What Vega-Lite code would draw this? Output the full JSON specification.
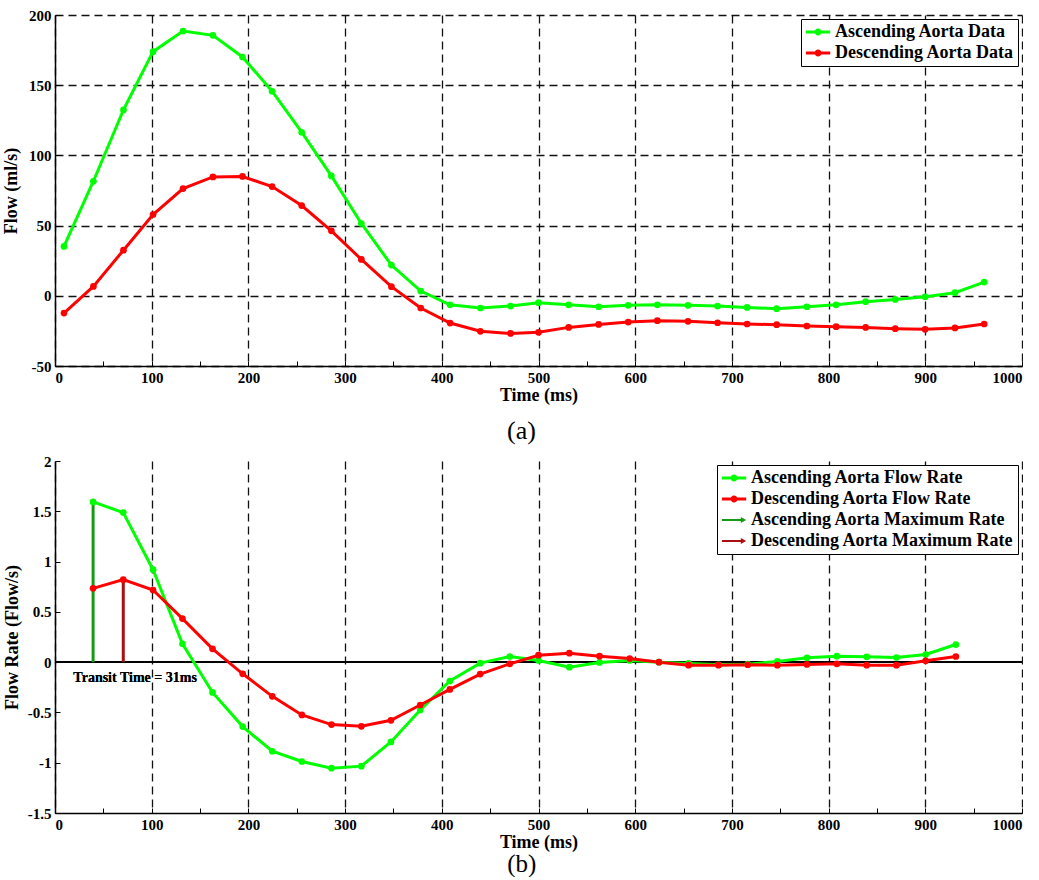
{
  "$schema": "https://vega.github.io/schema/vega-lite/v6.json",
  "background": "white",
  "padding": {"left": 2, "top": 8, "right": 0, "bottom": 0},
  "spacing": 10,
  "config": {
    "view": {"stroke": null},
    "font": "Liberation Serif",
    "axis": {
      "labelFont": "Liberation Serif", "labelFontSize": 15, "labelFontWeight": "bold", "labelColor": "black",
      "titleFont": "Liberation Serif", "titleFontSize": 18, "titleFontWeight": "bold", "titleColor": "black",
      "domainColor": "black", "domainWidth": 1.5,
      "tickColor": "black", "tickSize": -5, "tickWidth": 1,
      "labelPadding": 9,
      "gridColor": "#111111", "gridDash": [8, 5], "gridWidth": 1.3
    },
    "legend": {
      "orient": "top-right", "offset": 4, "strokeColor": "black", "fillColor": "white", "padding": 4,
      "labelFont": "Liberation Serif", "labelFontSize": 18, "labelFontWeight": "bold", "labelColor": "black",
      "labelLimit": 400, "labelOffset": 12, "rowPadding": 3, "symbolSize": 324, "symbolStrokeWidth": 0, "symbolOpacity": 1
    }
  },
  "datasets": {
    "flow": [
      {"t": 9.3, "v": 35.2, "s": "Ascending Aorta Data"},
      {"t": 39.7, "v": 81.6, "s": "Ascending Aorta Data"},
      {"t": 70.8, "v": 132.4, "s": "Ascending Aorta Data"},
      {"t": 101.4, "v": 173.9, "s": "Ascending Aorta Data"},
      {"t": 132.4, "v": 188.6, "s": "Ascending Aorta Data"},
      {"t": 163.3, "v": 185.5, "s": "Ascending Aorta Data"},
      {"t": 193.9, "v": 170.1, "s": "Ascending Aorta Data"},
      {"t": 224.5, "v": 145.7, "s": "Ascending Aorta Data"},
      {"t": 255.1, "v": 116.5, "s": "Ascending Aorta Data"},
      {"t": 285.8, "v": 85.4, "s": "Ascending Aorta Data"},
      {"t": 316.8, "v": 51.5, "s": "Ascending Aorta Data"},
      {"t": 347.9, "v": 21.9, "s": "Ascending Aorta Data"},
      {"t": 378.2, "v": 3.4, "s": "Ascending Aorta Data"},
      {"t": 408.6, "v": -6.4, "s": "Ascending Aorta Data"},
      {"t": 439.9, "v": -8.7, "s": "Ascending Aorta Data"},
      {"t": 471.1, "v": -7.3, "s": "Ascending Aorta Data"},
      {"t": 500.0, "v": -4.9, "s": "Ascending Aorta Data"},
      {"t": 531.2, "v": -6.4, "s": "Ascending Aorta Data"},
      {"t": 562.2, "v": -7.8, "s": "Ascending Aorta Data"},
      {"t": 592.8, "v": -6.8, "s": "Ascending Aorta Data"},
      {"t": 622.9, "v": -6.4, "s": "Ascending Aorta Data"},
      {"t": 654.6, "v": -6.8, "s": "Ascending Aorta Data"},
      {"t": 685.2, "v": -7.3, "s": "Ascending Aorta Data"},
      {"t": 715.7, "v": -8.3, "s": "Ascending Aorta Data"},
      {"t": 746.3, "v": -9.2, "s": "Ascending Aorta Data"},
      {"t": 777.5, "v": -7.8, "s": "Ascending Aorta Data"},
      {"t": 807.8, "v": -6.4, "s": "Ascending Aorta Data"},
      {"t": 838.3, "v": -4.2, "s": "Ascending Aorta Data"},
      {"t": 868.9, "v": -2.6, "s": "Ascending Aorta Data"},
      {"t": 899.8, "v": -0.7, "s": "Ascending Aorta Data"},
      {"t": 930.7, "v": 2.2, "s": "Ascending Aorta Data"},
      {"t": 960.9, "v": 9.8, "s": "Ascending Aorta Data"},
      {"t": 9.3, "v": -12.3, "s": "Descending Aorta Data"},
      {"t": 39.7, "v": 6.7, "s": "Descending Aorta Data"},
      {"t": 70.8, "v": 32.5, "s": "Descending Aorta Data"},
      {"t": 101.4, "v": 57.9, "s": "Descending Aorta Data"},
      {"t": 132.4, "v": 76.4, "s": "Descending Aorta Data"},
      {"t": 163.3, "v": 84.7, "s": "Descending Aorta Data"},
      {"t": 193.9, "v": 85.0, "s": "Descending Aorta Data"},
      {"t": 224.5, "v": 77.8, "s": "Descending Aorta Data"},
      {"t": 255.1, "v": 64.3, "s": "Descending Aorta Data"},
      {"t": 285.8, "v": 46.3, "s": "Descending Aorta Data"},
      {"t": 316.8, "v": 25.9, "s": "Descending Aorta Data"},
      {"t": 347.9, "v": 6.5, "s": "Descending Aorta Data"},
      {"t": 378.2, "v": -8.7, "s": "Descending Aorta Data"},
      {"t": 408.6, "v": -19.4, "s": "Descending Aorta Data"},
      {"t": 439.9, "v": -25.3, "s": "Descending Aorta Data"},
      {"t": 471.1, "v": -26.8, "s": "Descending Aorta Data"},
      {"t": 500.0, "v": -26.0, "s": "Descending Aorta Data"},
      {"t": 531.2, "v": -22.5, "s": "Descending Aorta Data"},
      {"t": 562.2, "v": -20.4, "s": "Descending Aorta Data"},
      {"t": 592.8, "v": -18.7, "s": "Descending Aorta Data"},
      {"t": 622.9, "v": -17.7, "s": "Descending Aorta Data"},
      {"t": 654.6, "v": -18.2, "s": "Descending Aorta Data"},
      {"t": 685.2, "v": -19.2, "s": "Descending Aorta Data"},
      {"t": 715.7, "v": -20.1, "s": "Descending Aorta Data"},
      {"t": 746.3, "v": -20.6, "s": "Descending Aorta Data"},
      {"t": 777.5, "v": -21.5, "s": "Descending Aorta Data"},
      {"t": 807.8, "v": -22.0, "s": "Descending Aorta Data"},
      {"t": 838.3, "v": -22.5, "s": "Descending Aorta Data"},
      {"t": 868.9, "v": -23.4, "s": "Descending Aorta Data"},
      {"t": 899.8, "v": -23.9, "s": "Descending Aorta Data"},
      {"t": 930.7, "v": -22.9, "s": "Descending Aorta Data"},
      {"t": 960.9, "v": -20.1, "s": "Descending Aorta Data"}
    ],
    "rate": [
      {"t": 39.4, "v": 1.593, "s": "Ascending Aorta Flow Rate"},
      {"t": 70.6, "v": 1.487, "s": "Ascending Aorta Flow Rate"},
      {"t": 101.4, "v": 0.919, "s": "Ascending Aorta Flow Rate"},
      {"t": 131.8, "v": 0.182, "s": "Ascending Aorta Flow Rate"},
      {"t": 162.9, "v": -0.301, "s": "Ascending Aorta Flow Rate"},
      {"t": 194.1, "v": -0.641, "s": "Ascending Aorta Flow Rate"},
      {"t": 224.7, "v": -0.886, "s": "Ascending Aorta Flow Rate"},
      {"t": 255.3, "v": -0.988, "s": "Ascending Aorta Flow Rate"},
      {"t": 285.9, "v": -1.054, "s": "Ascending Aorta Flow Rate"},
      {"t": 316.8, "v": -1.034, "s": "Ascending Aorta Flow Rate"},
      {"t": 347.4, "v": -0.793, "s": "Ascending Aorta Flow Rate"},
      {"t": 377.7, "v": -0.476, "s": "Ascending Aorta Flow Rate"},
      {"t": 408.3, "v": -0.188, "s": "Ascending Aorta Flow Rate"},
      {"t": 439.7, "v": -0.01, "s": "Ascending Aorta Flow Rate"},
      {"t": 470.3, "v": 0.056, "s": "Ascending Aorta Flow Rate"},
      {"t": 500.0, "v": 0.017, "s": "Ascending Aorta Flow Rate"},
      {"t": 531.9, "v": -0.05, "s": "Ascending Aorta Flow Rate"},
      {"t": 563.1, "v": -0.003, "s": "Ascending Aorta Flow Rate"},
      {"t": 594.3, "v": 0.017, "s": "Ascending Aorta Flow Rate"},
      {"t": 624.6, "v": 0.0, "s": "Ascending Aorta Flow Rate"},
      {"t": 655.2, "v": -0.013, "s": "Ascending Aorta Flow Rate"},
      {"t": 686.1, "v": -0.026, "s": "Ascending Aorta Flow Rate"},
      {"t": 716.4, "v": -0.02, "s": "Ascending Aorta Flow Rate"},
      {"t": 747.0, "v": 0.007, "s": "Ascending Aorta Flow Rate"},
      {"t": 777.6, "v": 0.043, "s": "Ascending Aorta Flow Rate"},
      {"t": 808.5, "v": 0.059, "s": "Ascending Aorta Flow Rate"},
      {"t": 839.4, "v": 0.053, "s": "Ascending Aorta Flow Rate"},
      {"t": 870.2, "v": 0.046, "s": "Ascending Aorta Flow Rate"},
      {"t": 900.4, "v": 0.076, "s": "Ascending Aorta Flow Rate"},
      {"t": 931.6, "v": 0.175, "s": "Ascending Aorta Flow Rate"},
      {"t": 39.4, "v": 0.734, "s": "Descending Aorta Flow Rate"},
      {"t": 70.6, "v": 0.82, "s": "Descending Aorta Flow Rate"},
      {"t": 101.4, "v": 0.717, "s": "Descending Aorta Flow Rate"},
      {"t": 131.8, "v": 0.433, "s": "Descending Aorta Flow Rate"},
      {"t": 162.9, "v": 0.132, "s": "Descending Aorta Flow Rate"},
      {"t": 194.1, "v": -0.116, "s": "Descending Aorta Flow Rate"},
      {"t": 224.7, "v": -0.34, "s": "Descending Aorta Flow Rate"},
      {"t": 255.3, "v": -0.525, "s": "Descending Aorta Flow Rate"},
      {"t": 285.9, "v": -0.621, "s": "Descending Aorta Flow Rate"},
      {"t": 316.8, "v": -0.638, "s": "Descending Aorta Flow Rate"},
      {"t": 347.4, "v": -0.578, "s": "Descending Aorta Flow Rate"},
      {"t": 377.7, "v": -0.426, "s": "Descending Aorta Flow Rate"},
      {"t": 408.3, "v": -0.271, "s": "Descending Aorta Flow Rate"},
      {"t": 439.7, "v": -0.119, "s": "Descending Aorta Flow Rate"},
      {"t": 470.3, "v": -0.017, "s": "Descending Aorta Flow Rate"},
      {"t": 500.0, "v": 0.069, "s": "Descending Aorta Flow Rate"},
      {"t": 531.9, "v": 0.089, "s": "Descending Aorta Flow Rate"},
      {"t": 563.1, "v": 0.059, "s": "Descending Aorta Flow Rate"},
      {"t": 594.3, "v": 0.036, "s": "Descending Aorta Flow Rate"},
      {"t": 624.6, "v": 0.0, "s": "Descending Aorta Flow Rate"},
      {"t": 655.2, "v": -0.03, "s": "Descending Aorta Flow Rate"},
      {"t": 686.1, "v": -0.03, "s": "Descending Aorta Flow Rate"},
      {"t": 716.4, "v": -0.026, "s": "Descending Aorta Flow Rate"},
      {"t": 747.0, "v": -0.03, "s": "Descending Aorta Flow Rate"},
      {"t": 777.6, "v": -0.023, "s": "Descending Aorta Flow Rate"},
      {"t": 808.5, "v": -0.017, "s": "Descending Aorta Flow Rate"},
      {"t": 839.4, "v": -0.03, "s": "Descending Aorta Flow Rate"},
      {"t": 870.2, "v": -0.03, "s": "Descending Aorta Flow Rate"},
      {"t": 900.4, "v": 0.013, "s": "Descending Aorta Flow Rate"},
      {"t": 931.6, "v": 0.056, "s": "Descending Aorta Flow Rate"}
    ],
    "stems": [
      {"t": 39.4, "v": 1.593, "s": "Ascending Aorta Maximum Rate"},
      {"t": 70.6, "v": 0.82, "s": "Descending Aorta Maximum Rate"}
    ]
  },
  "resolve": {"scale": {"color": "independent"}, "legend": {"color": "independent"}},
  "vconcat": [
    {
      "width": 967,
      "height": 351,
      "title": {"text": "(a)", "orient": "bottom", "anchor": "middle", "frame": "bounds", "dx": 9, "font": "Liberation Serif", "fontSize": 26, "fontWeight": "normal", "color": "black", "offset": 14},
      "data": {"name": "flow"},
      "layer": [
        {
          "mark": {"type": "line", "strokeWidth": 3},
          "encoding": {
            "x": {"field": "t", "type": "quantitative", "title": "Time (ms)",
              "scale": {"domain": [0, 1000], "nice": false, "zero": false},
              "axis": {
                "values": [0, 50, 100, 150, 200, 250, 300, 350, 400, 450, 500, 550, 600, 650, 700, 750, 800, 850, 900, 950, 1000],
                "labelExpr": "datum.value % 100 === 0 ? toString(datum.value) : ''",
                "gridOpacity": {"condition": {"test": "datum.value % 100 === 0", "value": 1}, "value": 0},
                "titlePadding": 1
              }},
            "y": {"field": "v", "type": "quantitative", "title": "Flow (ml/s)",
              "scale": {"domain": [-50, 200], "nice": false, "zero": false},
              "axis": {
                "values": [-50, -25, 0, 25, 50, 75, 100, 125, 150, 175, 200],
                "labelExpr": "datum.value % 50 === 0 ? toString(datum.value) : ''",
                "gridOpacity": {"condition": {"test": "datum.value % 50 === 0", "value": 1}, "value": 0},
                "titlePadding": 8
              }},
            "color": {"field": "s", "type": "nominal", "sort": null,
              "scale": {"domain": ["Ascending Aorta Data", "Descending Aorta Data"], "range": ["#00ff00", "#ff0000"]},
              "legend": {"title": null,
                "symbolType": "M-0.9,-0.17L1.8,-0.17L1.8,0.17L-0.9,0.17Z M0.07,0A0.38,0.38,0,1,1,0.83,0A0.38,0.38,0,1,1,0.07,0Z",
                "encode": {"symbols": {"update": {
                  "fill": {"signal": "datum.value == 'Ascending Aorta Data' ? '#00ff00' : '#ff0000'"},
                  "strokeWidth": {"value": 0}
                }}}}}
          }
        },
        {
          "mark": {"type": "point", "filled": true, "size": 45, "opacity": 1},
          "encoding": {
            "x": {"field": "t", "type": "quantitative"},
            "y": {"field": "v", "type": "quantitative"},
            "color": {"field": "s", "type": "nominal", "sort": null}
          }
        }
      ]
    },
    {
      "width": 967,
      "height": 352,
      "title": {"text": "(b)", "orient": "bottom", "anchor": "middle", "frame": "bounds", "dx": 9, "font": "Liberation Serif", "fontSize": 25, "fontWeight": "normal", "color": "black", "offset": 1},
      "layer": [
        {
          "data": {"name": "rate"},
          "mark": {"type": "rule", "color": "black", "strokeWidth": 1},
          "encoding": {"y": {"datum": 0, "type": "quantitative"}}
        },
        {
          "data": {"name": "rate"},
          "mark": {"type": "line", "strokeWidth": 3},
          "encoding": {
            "x": {"field": "t", "type": "quantitative", "title": "Time (ms)",
              "scale": {"domain": [0, 1000], "nice": false, "zero": false},
              "axis": {
                "values": [0, 50, 100, 150, 200, 250, 300, 350, 400, 450, 500, 550, 600, 650, 700, 750, 800, 850, 900, 950, 1000],
                "labelExpr": "datum.value % 100 === 0 ? toString(datum.value) : ''",
                "gridOpacity": {"condition": {"test": "datum.value % 100 === 0", "value": 1}, "value": 0},
                "titlePadding": 1
              }},
            "y": {"field": "v", "type": "quantitative", "title": "Flow Rate (Flow/s)",
              "scale": {"domain": [-1.5, 2], "nice": false, "zero": false},
              "axis": {
                "values": [-1.5, -1.25, -1, -0.75, -0.5, -0.25, 0, 0.25, 0.5, 0.75, 1, 1.25, 1.5, 1.75, 2],
                "labelExpr": "abs(datum.value * 2 - round(datum.value * 2)) < 0.001 ? toString(datum.value) : ''",
                "gridOpacity": {"condition": {"test": "abs(datum.value * 2 - round(datum.value * 2)) < 0.001", "value": 1}, "value": 0},
                "titlePadding": 6
              }},
            "color": {"field": "s", "type": "nominal", "sort": null,
              "scale": {"domain": ["Ascending Aorta Flow Rate", "Descending Aorta Flow Rate", "Ascending Aorta Maximum Rate", "Descending Aorta Maximum Rate"], "range": ["#00ff00", "#ff0000", "#169a16", "#a80f0f"]},
              "legend": {"title": null,
                "symbolType": "M-0.9,-0.17L1.8,-0.17L1.8,0.17L-0.9,0.17Z M0.07,0A0.38,0.38,0,1,1,0.83,0A0.38,0.38,0,1,1,0.07,0Z",
                "encode": {"symbols": {"update": {
                  "shape": {"signal": "indexof(datum.value, 'Maximum') >= 0 ? 'M-0.9,-0.11L1.2,-0.11L1.2,-0.33L1.8,0L1.2,0.33L1.2,0.11L-0.9,0.11Z' : 'M-0.9,-0.17L1.8,-0.17L1.8,0.17L-0.9,0.17Z M0.07,0A0.38,0.38,0,1,1,0.83,0A0.38,0.38,0,1,1,0.07,0Z'"},
                  "fill": {"signal": "datum.value == 'Ascending Aorta Flow Rate' ? '#00ff00' : datum.value == 'Descending Aorta Flow Rate' ? '#ff0000' : datum.value == 'Ascending Aorta Maximum Rate' ? '#169a16' : '#a80f0f'"},
                  "strokeWidth": {"value": 0}
                }}}}}
          }
        },
        {
          "data": {"name": "stems"},
          "mark": {"type": "rule", "strokeWidth": 3},
          "encoding": {
            "x": {"field": "t", "type": "quantitative"},
            "y": {"field": "v", "type": "quantitative"},
            "y2": {"datum": 0},
            "color": {"field": "s", "type": "nominal", "sort": null}
          }
        },
        {
          "data": {"name": "rate"},
          "mark": {"type": "point", "filled": true, "size": 45, "opacity": 1},
          "encoding": {
            "x": {"field": "t", "type": "quantitative"},
            "y": {"field": "v", "type": "quantitative"},
            "color": {"field": "s", "type": "nominal", "sort": null}
          }
        },
        {
          "data": {"name": "stems"},
          "mark": {"type": "text", "font": "Liberation Serif", "fontSize": 14, "fontWeight": "bold", "color": "black", "align": "left", "baseline": "middle"},
          "encoding": {
            "x": {"datum": 19},
            "y": {"datum": -0.155},
            "text": {"value": "Transit Time = 31ms"}
          }
        }
      ]
    }
  ]
}
